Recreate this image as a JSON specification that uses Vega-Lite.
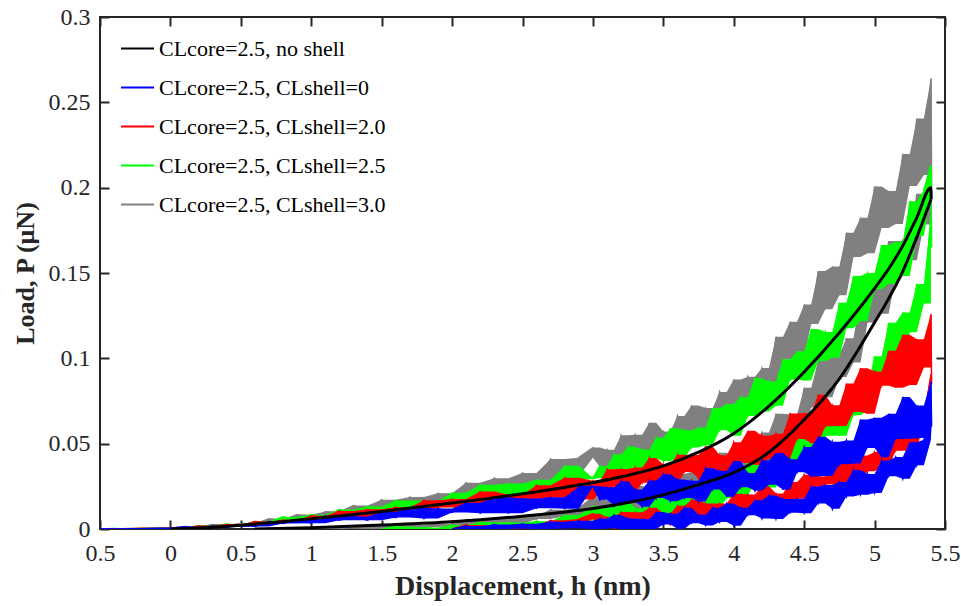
{
"$schema": "https://vega.github.io/schema/vega-lite/v6.json",
"width": 845,
"height": 512,
"autosize": {"type": "none"},
"padding": {"left": 100, "top": 17, "right": 16, "bottom": 77},
"background": "white",
"config": {
  "view": {"stroke": "#262626", "strokeWidth": 2},
  "axis": {"labelFont": "Liberation Serif", "labelFontSize": 24, "labelColor": "#262626", "tickColor": "#262626", "tickWidth": 2, "tickSize": -9, "domain": false, "grid": false, "labelFlush": false, "labelOverlap": false, "titleFont": "Liberation Serif", "titleFontSize": 26, "titleFontWeight": "bold", "titleColor": "#262626"}
},
"data": {"values": [
{"s":"y","t":"L","h":-0.5,"p":0.0002},{"s":"y","t":"L","h":-0.4,"p":0},{"s":"y","t":"L","h":-0.3,"p":0.0003},{"s":"y","t":"L","h":-0.2,"p":0.0001},{"s":"y","t":"L","h":-0.1,"p":0.0006},{"s":"y","t":"L","h":0,"p":0.0005},{"s":"y","t":"L","h":0.1,"p":0.0014},{"s":"y","t":"L","h":0.2,"p":0.0011},{"s":"y","t":"L","h":0.3,"p":0.0027},{"s":"y","t":"L","h":0.4,"p":0.0021},{"s":"y","t":"L","h":0.5,"p":0.0032},{"s":"y","t":"L","h":0.6,"p":0.003},{"s":"y","t":"L","h":0.7,"p":0.006},{"s":"y","t":"L","h":0.8,"p":0.005},{"s":"y","t":"L","h":0.9,"p":0.0085},{"s":"y","t":"L","h":1.0,"p":0.0061},{"s":"y","t":"L","h":1.1,"p":0.0101},{"s":"y","t":"L","h":1.2,"p":0.0097},{"s":"y","t":"L","h":1.3,"p":0.0138},{"s":"y","t":"L","h":1.4,"p":0.0108},{"s":"y","t":"L","h":1.5,"p":0.0172},{"s":"y","t":"L","h":1.6,"p":0.0123},{"s":"y","t":"L","h":1.7,"p":0.0187},{"s":"y","t":"L","h":1.8,"p":0.0157},{"s":"y","t":"L","h":1.9,"p":0.0209},{"s":"y","t":"L","h":2.0,"p":0.0173},{"s":"y","t":"L","h":2.1,"p":0.0271},{"s":"y","t":"L","h":2.2,"p":0.0221},{"s":"y","t":"L","h":2.3,"p":0.0298},{"s":"y","t":"L","h":2.4,"p":0.0214},{"s":"y","t":"L","h":2.5,"p":0.0328},{"s":"y","t":"L","h":2.6,"p":0.028},{"s":"y","t":"L","h":2.7,"p":0.041},{"s":"y","t":"L","h":2.8,"p":0.0309},{"s":"y","t":"L","h":2.9,"p":0.0418},
{"s":"y","t":"L","h":3.0,"p":0.0477},{"s":"y","t":"L","h":3.05,"p":0.0364},{"s":"y","t":"L","h":3.1,"p":0.0464},{"s":"y","t":"L","h":3.15,"p":0.0362},{"s":"y","t":"L","h":3.2,"p":0.0549},{"s":"y","t":"L","h":3.25,"p":0.0442},{"s":"y","t":"L","h":3.3,"p":0.0552},{"s":"y","t":"L","h":3.35,"p":0.042},{"s":"y","t":"L","h":3.4,"p":0.0622},{"s":"y","t":"L","h":3.45,"p":0.0485},{"s":"y","t":"L","h":3.5,"p":0.0571},{"s":"y","t":"L","h":3.55,"p":0.0483},{"s":"y","t":"L","h":3.6,"p":0.0662},{"s":"y","t":"L","h":3.65,"p":0.0538},{"s":"y","t":"L","h":3.7,"p":0.0724},{"s":"y","t":"L","h":3.75,"p":0.0525},{"s":"y","t":"L","h":3.8,"p":0.0709},{"s":"y","t":"L","h":3.85,"p":0.0648},{"s":"y","t":"L","h":3.9,"p":0.0803},{"s":"y","t":"L","h":3.95,"p":0.0641},{"s":"y","t":"L","h":4.0,"p":0.0876},{"s":"y","t":"L","h":4.05,"p":0.0672},{"s":"y","t":"L","h":4.1,"p":0.0892},{"s":"y","t":"L","h":4.15,"p":0.0783},{"s":"y","t":"L","h":4.2,"p":0.0943},{"s":"y","t":"L","h":4.25,"p":0.0827},{"s":"y","t":"L","h":4.3,"p":0.1126},{"s":"y","t":"L","h":4.35,"p":0.0993},{"s":"y","t":"L","h":4.4,"p":0.1214},{"s":"y","t":"L","h":4.45,"p":0.1009},{"s":"y","t":"L","h":4.5,"p":0.1315},{"s":"y","t":"L","h":4.55,"p":0.1201},{"s":"y","t":"L","h":4.6,"p":0.1511},{"s":"y","t":"L","h":4.65,"p":0.1287},{"s":"y","t":"L","h":4.7,"p":0.1538},{"s":"y","t":"L","h":4.75,"p":0.137},{"s":"y","t":"L","h":4.8,"p":0.1736},{"s":"y","t":"L","h":4.85,"p":0.1594},{"s":"y","t":"L","h":4.9,"p":0.1824},{"s":"y","t":"L","h":4.95,"p":0.1616},{"s":"y","t":"L","h":5.0,"p":0.2007},{"s":"y","t":"L","h":5.05,"p":0.1764},{"s":"y","t":"L","h":5.1,"p":0.1981},{"s":"y","t":"L","h":5.15,"p":0.1787},{"s":"y","t":"L","h":5.2,"p":0.2198},{"s":"y","t":"L","h":5.25,"p":0.201},{"s":"y","t":"L","h":5.3,"p":0.2405},{"s":"y","t":"L","h":5.35,"p":0.2074},{"s":"y","t":"L","h":5.4,"p":0.2639},{"s":"y","t":"L","h":5.405,"p":0.2},
{"s":"y","t":"U","h":1.0,"p":0},{"s":"y","t":"U","h":1.1,"p":0.0006},{"s":"y","t":"U","h":1.2,"p":0.0001},{"s":"y","t":"U","h":1.3,"p":0.0015},{"s":"y","t":"U","h":1.4,"p":0},{"s":"y","t":"U","h":1.5,"p":0.0023},{"s":"y","t":"U","h":1.6,"p":0.0001},{"s":"y","t":"U","h":1.7,"p":0.0026},{"s":"y","t":"U","h":1.8,"p":0.0012},{"s":"y","t":"U","h":1.9,"p":0.0031},{"s":"y","t":"U","h":2.0,"p":0.0015},{"s":"y","t":"U","h":2.1,"p":0.0055},{"s":"y","t":"U","h":2.2,"p":0.0033},{"s":"y","t":"U","h":2.3,"p":0.0064},{"s":"y","t":"U","h":2.4,"p":0.003},{"s":"y","t":"U","h":2.5,"p":0.0076},{"s":"y","t":"U","h":2.6,"p":0.0058},{"s":"y","t":"U","h":2.7,"p":0.0113},{"s":"y","t":"U","h":2.8,"p":0.0074},{"s":"y","t":"U","h":2.9,"p":0.0121},
{"s":"y","t":"U","h":3.0,"p":0.0186},{"s":"y","t":"U","h":3.05,"p":0.0053},{"s":"y","t":"U","h":3.1,"p":0.0166},{"s":"y","t":"U","h":3.15,"p":0.0121},{"s":"y","t":"U","h":3.2,"p":0.0216},{"s":"y","t":"U","h":3.25,"p":0.0103},{"s":"y","t":"U","h":3.3,"p":0.0253},{"s":"y","t":"U","h":3.35,"p":0.0104},{"s":"y","t":"U","h":3.4,"p":0.0234},{"s":"y","t":"U","h":3.45,"p":0.0147},{"s":"y","t":"U","h":3.5,"p":0.0237},{"s":"y","t":"U","h":3.55,"p":0.015},{"s":"y","t":"U","h":3.6,"p":0.0323},{"s":"y","t":"U","h":3.65,"p":0.0214},{"s":"y","t":"U","h":3.7,"p":0.0335},{"s":"y","t":"U","h":3.75,"p":0.018},{"s":"y","t":"U","h":3.8,"p":0.0361},{"s":"y","t":"U","h":3.85,"p":0.0268},{"s":"y","t":"U","h":3.9,"p":0.0447},{"s":"y","t":"U","h":3.95,"p":0.0284},{"s":"y","t":"U","h":4.0,"p":0.0424},{"s":"y","t":"U","h":4.05,"p":0.0305},{"s":"y","t":"U","h":4.1,"p":0.0529},{"s":"y","t":"U","h":4.15,"p":0.0428},{"s":"y","t":"U","h":4.2,"p":0.0565},{"s":"y","t":"U","h":4.25,"p":0.0421},{"s":"y","t":"U","h":4.3,"p":0.0676},{"s":"y","t":"U","h":4.35,"p":0.0526},{"s":"y","t":"U","h":4.4,"p":0.0673},{"s":"y","t":"U","h":4.45,"p":0.0552},{"s":"y","t":"U","h":4.5,"p":0.0827},{"s":"y","t":"U","h":4.55,"p":0.0713},{"s":"y","t":"U","h":4.6,"p":0.0984},{"s":"y","t":"U","h":4.65,"p":0.0772},{"s":"y","t":"U","h":4.7,"p":0.1023},{"s":"y","t":"U","h":4.75,"p":0.089},{"s":"y","t":"U","h":4.8,"p":0.1118},{"s":"y","t":"U","h":4.85,"p":0.0975},{"s":"y","t":"U","h":4.9,"p":0.1363},{"s":"y","t":"U","h":4.95,"p":0.121},{"s":"y","t":"U","h":5.0,"p":0.1457},{"s":"y","t":"U","h":5.05,"p":0.1261},{"s":"y","t":"U","h":5.1,"p":0.1687},{"s":"y","t":"U","h":5.15,"p":0.148},{"s":"y","t":"U","h":5.2,"p":0.1689},{"s":"y","t":"U","h":5.25,"p":0.1575},{"s":"y","t":"U","h":5.3,"p":0.1964},{"s":"y","t":"U","h":5.35,"p":0.1784},{"s":"y","t":"U","h":5.4,"p":0.2194},
{"s":"g","t":"L","h":-0.5,"p":0},{"s":"g","t":"L","h":-0.4,"p":0.0003},{"s":"g","t":"L","h":-0.3,"p":0},{"s":"g","t":"L","h":-0.2,"p":0.0004},{"s":"g","t":"L","h":-0.1,"p":0.0003},{"s":"g","t":"L","h":0,"p":0.0006},{"s":"g","t":"L","h":0.1,"p":0.0006},{"s":"g","t":"L","h":0.2,"p":0.0019},{"s":"g","t":"L","h":0.3,"p":0.0016},{"s":"g","t":"L","h":0.4,"p":0.0029},{"s":"g","t":"L","h":0.5,"p":0.0018},{"s":"g","t":"L","h":0.6,"p":0.0044},{"s":"g","t":"L","h":0.7,"p":0.004},{"s":"g","t":"L","h":0.8,"p":0.0071},{"s":"g","t":"L","h":0.9,"p":0.0054},{"s":"g","t":"L","h":1.0,"p":0.0083},{"s":"g","t":"L","h":1.1,"p":0.0066},{"s":"g","t":"L","h":1.2,"p":0.0114},{"s":"g","t":"L","h":1.3,"p":0.0097},{"s":"g","t":"L","h":1.4,"p":0.0132},{"s":"g","t":"L","h":1.5,"p":0.01},{"s":"g","t":"L","h":1.6,"p":0.0167},{"s":"g","t":"L","h":1.7,"p":0.0125},{"s":"g","t":"L","h":1.8,"p":0.0166},{"s":"g","t":"L","h":1.9,"p":0.0127},{"s":"g","t":"L","h":2.0,"p":0.0212},{"s":"g","t":"L","h":2.1,"p":0.017},{"s":"g","t":"L","h":2.2,"p":0.026},{"s":"g","t":"L","h":2.3,"p":0.0178},{"s":"g","t":"L","h":2.4,"p":0.0266},{"s":"g","t":"L","h":2.5,"p":0.0207},{"s":"g","t":"L","h":2.6,"p":0.0288},{"s":"g","t":"L","h":2.7,"p":0.0216},{"s":"g","t":"L","h":2.8,"p":0.0371},{"s":"g","t":"L","h":2.9,"p":0.0291},
{"s":"g","t":"L","h":3.0,"p":0.0299},{"s":"g","t":"L","h":3.05,"p":0.0369},{"s":"g","t":"L","h":3.1,"p":0.0296},{"s":"g","t":"L","h":3.15,"p":0.0437},{"s":"g","t":"L","h":3.2,"p":0.0335},{"s":"g","t":"L","h":3.25,"p":0.0482},{"s":"g","t":"L","h":3.3,"p":0.0321},{"s":"g","t":"L","h":3.35,"p":0.0466},{"s":"g","t":"L","h":3.4,"p":0.0413},{"s":"g","t":"L","h":3.45,"p":0.0535},{"s":"g","t":"L","h":3.5,"p":0.0399},{"s":"g","t":"L","h":3.55,"p":0.0591},{"s":"g","t":"L","h":3.6,"p":0.0412},{"s":"g","t":"L","h":3.65,"p":0.0578},{"s":"g","t":"L","h":3.7,"p":0.0477},{"s":"g","t":"L","h":3.75,"p":0.0593},{"s":"g","t":"L","h":3.8,"p":0.0491},{"s":"g","t":"L","h":3.85,"p":0.0708},{"s":"g","t":"L","h":3.9,"p":0.0579},{"s":"g","t":"L","h":3.95,"p":0.0733},{"s":"g","t":"L","h":4.0,"p":0.0547},{"s":"g","t":"L","h":4.05,"p":0.0773},{"s":"g","t":"L","h":4.1,"p":0.0662},{"s":"g","t":"L","h":4.15,"p":0.0884},{"s":"g","t":"L","h":4.2,"p":0.0689},{"s":"g","t":"L","h":4.25,"p":0.0864},{"s":"g","t":"L","h":4.3,"p":0.0722},{"s":"g","t":"L","h":4.35,"p":0.0995},{"s":"g","t":"L","h":4.4,"p":0.0875},{"s":"g","t":"L","h":4.45,"p":0.1042},{"s":"g","t":"L","h":4.5,"p":0.087},{"s":"g","t":"L","h":4.55,"p":0.1172},{"s":"g","t":"L","h":4.6,"p":0.0984},{"s":"g","t":"L","h":4.65,"p":0.1154},{"s":"g","t":"L","h":4.7,"p":0.1004},{"s":"g","t":"L","h":4.75,"p":0.1326},{"s":"g","t":"L","h":4.8,"p":0.1176},{"s":"g","t":"L","h":4.85,"p":0.1482},{"s":"g","t":"L","h":4.9,"p":0.1219},{"s":"g","t":"L","h":4.95,"p":0.15},{"s":"g","t":"L","h":5.0,"p":0.1405},{"s":"g","t":"L","h":5.05,"p":0.1664},{"s":"g","t":"L","h":5.1,"p":0.1437},{"s":"g","t":"L","h":5.15,"p":0.1683},{"s":"g","t":"L","h":5.2,"p":0.1483},{"s":"g","t":"L","h":5.25,"p":0.1921},{"s":"g","t":"L","h":5.3,"p":0.1718},{"s":"g","t":"L","h":5.35,"p":0.1985},{"s":"g","t":"L","h":5.4,"p":0.2132},{"s":"g","t":"L","h":5.405,"p":0.165},
{"s":"g","t":"U","h":1.5,"p":0},{"s":"g","t":"U","h":1.6,"p":0.0015},{"s":"g","t":"U","h":1.7,"p":0},{"s":"g","t":"U","h":1.8,"p":0.0009},{"s":"g","t":"U","h":1.9,"p":0},{"s":"g","t":"U","h":2.0,"p":0.0023},{"s":"g","t":"U","h":2.1,"p":0.0004},{"s":"g","t":"U","h":2.2,"p":0.004},{"s":"g","t":"U","h":2.3,"p":0.0004},{"s":"g","t":"U","h":2.4,"p":0.0038},{"s":"g","t":"U","h":2.5,"p":0.0012},{"s":"g","t":"U","h":2.6,"p":0.0046},{"s":"g","t":"U","h":2.7,"p":0.0017},{"s":"g","t":"U","h":2.8,"p":0.0082},{"s":"g","t":"U","h":2.9,"p":0.0049},
{"s":"g","t":"U","h":3.0,"p":0.0134},{"s":"g","t":"U","h":3.05,"p":0.0047},{"s":"g","t":"U","h":3.1,"p":0.0126},{"s":"g","t":"U","h":3.15,"p":0.002},{"s":"g","t":"U","h":3.2,"p":0.0171},{"s":"g","t":"U","h":3.25,"p":0.0061},{"s":"g","t":"U","h":3.3,"p":0.0122},{"s":"g","t":"U","h":3.35,"p":0.0046},{"s":"g","t":"U","h":3.4,"p":0.0177},{"s":"g","t":"U","h":3.45,"p":0.0072},{"s":"g","t":"U","h":3.5,"p":0.0208},{"s":"g","t":"U","h":3.55,"p":0.0051},{"s":"g","t":"U","h":3.6,"p":0.0186},{"s":"g","t":"U","h":3.65,"p":0.0132},{"s":"g","t":"U","h":3.7,"p":0.0245},{"s":"g","t":"U","h":3.75,"p":0.0113},{"s":"g","t":"U","h":3.8,"p":0.0294},{"s":"g","t":"U","h":3.85,"p":0.0122},{"s":"g","t":"U","h":3.9,"p":0.0279},{"s":"g","t":"U","h":3.95,"p":0.0182},{"s":"g","t":"U","h":4.0,"p":0.0292},{"s":"g","t":"U","h":4.05,"p":0.0193},{"s":"g","t":"U","h":4.1,"p":0.04},{"s":"g","t":"U","h":4.15,"p":0.0275},{"s":"g","t":"U","h":4.2,"p":0.0421},{"s":"g","t":"U","h":4.25,"p":0.0243},{"s":"g","t":"U","h":4.3,"p":0.0457},{"s":"g","t":"U","h":4.35,"p":0.0347},{"s":"g","t":"U","h":4.4,"p":0.0557},{"s":"g","t":"U","h":4.45,"p":0.0367},{"s":"g","t":"U","h":4.5,"p":0.0532},{"s":"g","t":"U","h":4.55,"p":0.0397},{"s":"g","t":"U","h":4.6,"p":0.066},{"s":"g","t":"U","h":4.65,"p":0.0547},{"s":"g","t":"U","h":4.7,"p":0.0709},{"s":"g","t":"U","h":4.75,"p":0.0546},{"s":"g","t":"U","h":4.8,"p":0.084},{"s":"g","t":"U","h":4.85,"p":0.0666},{"s":"g","t":"U","h":4.9,"p":0.0835},{"s":"g","t":"U","h":4.95,"p":0.0695},{"s":"g","t":"U","h":5.0,"p":0.1012},{"s":"g","t":"U","h":5.05,"p":0.0888},{"s":"g","t":"U","h":5.1,"p":0.1208},{"s":"g","t":"U","h":5.15,"p":0.0972},{"s":"g","t":"U","h":5.2,"p":0.1269},{"s":"g","t":"U","h":5.25,"p":0.1153},{"s":"g","t":"U","h":5.3,"p":0.1436},{"s":"g","t":"U","h":5.35,"p":0.1321},{"s":"g","t":"U","h":5.4,"p":0.1831},
{"s":"r","t":"L","h":-0.5,"p":0},{"s":"r","t":"L","h":-0.4,"p":0.0002},{"s":"r","t":"L","h":-0.3,"p":0.0001},{"s":"r","t":"L","h":-0.2,"p":0.0005},{"s":"r","t":"L","h":-0.1,"p":0.0003},{"s":"r","t":"L","h":0,"p":0.0006},{"s":"r","t":"L","h":0.1,"p":0.0005},{"s":"r","t":"L","h":0.2,"p":0.0018},{"s":"r","t":"L","h":0.3,"p":0.0015},{"s":"r","t":"L","h":0.4,"p":0.0026},{"s":"r","t":"L","h":0.5,"p":0.0017},{"s":"r","t":"L","h":0.6,"p":0.0044},{"s":"r","t":"L","h":0.7,"p":0.0033},{"s":"r","t":"L","h":0.8,"p":0.0052},{"s":"r","t":"L","h":0.9,"p":0.004},{"s":"r","t":"L","h":1.0,"p":0.0078},{"s":"r","t":"L","h":1.1,"p":0.0064},{"s":"r","t":"L","h":1.2,"p":0.0106},{"s":"r","t":"L","h":1.3,"p":0.0071},{"s":"r","t":"L","h":1.4,"p":0.0115},{"s":"r","t":"L","h":1.5,"p":0.0089},{"s":"r","t":"L","h":1.6,"p":0.0128},{"s":"r","t":"L","h":1.7,"p":0.009},{"s":"r","t":"L","h":1.8,"p":0.0169},{"s":"r","t":"L","h":1.9,"p":0.0126},{"s":"r","t":"L","h":2.0,"p":0.0176},{"s":"r","t":"L","h":2.1,"p":0.0118},{"s":"r","t":"L","h":2.2,"p":0.022},{"s":"r","t":"L","h":2.3,"p":0.0153},{"s":"r","t":"L","h":2.4,"p":0.0201},{"s":"r","t":"L","h":2.5,"p":0.0152},{"s":"r","t":"L","h":2.6,"p":0.0257},{"s":"r","t":"L","h":2.7,"p":0.0184},{"s":"r","t":"L","h":2.8,"p":0.03},{"s":"r","t":"L","h":2.9,"p":0.0173},
{"s":"r","t":"L","h":3.0,"p":0.0283},{"s":"r","t":"L","h":3.05,"p":0.0204},{"s":"r","t":"L","h":3.1,"p":0.035},{"s":"r","t":"L","h":3.15,"p":0.025},{"s":"r","t":"L","h":3.2,"p":0.0352},{"s":"r","t":"L","h":3.25,"p":0.0213},{"s":"r","t":"L","h":3.3,"p":0.0361},{"s":"r","t":"L","h":3.35,"p":0.0271},{"s":"r","t":"L","h":3.4,"p":0.0416},{"s":"r","t":"L","h":3.45,"p":0.0266},{"s":"r","t":"L","h":3.5,"p":0.0378},{"s":"r","t":"L","h":3.55,"p":0.0261},{"s":"r","t":"L","h":3.6,"p":0.0435},{"s":"r","t":"L","h":3.65,"p":0.0334},{"s":"r","t":"L","h":3.7,"p":0.0434},{"s":"r","t":"L","h":3.75,"p":0.0297},{"s":"r","t":"L","h":3.8,"p":0.0485},{"s":"r","t":"L","h":3.85,"p":0.0335},{"s":"r","t":"L","h":3.9,"p":0.0432},{"s":"r","t":"L","h":3.95,"p":0.0309},{"s":"r","t":"L","h":4.0,"p":0.0509},{"s":"r","t":"L","h":4.05,"p":0.0387},{"s":"r","t":"L","h":4.1,"p":0.0575},{"s":"r","t":"L","h":4.15,"p":0.0377},{"s":"r","t":"L","h":4.2,"p":0.0547},{"s":"r","t":"L","h":4.25,"p":0.0414},{"s":"r","t":"L","h":4.3,"p":0.0558},{"s":"r","t":"L","h":4.35,"p":0.0413},{"s":"r","t":"L","h":4.4,"p":0.0677},{"s":"r","t":"L","h":4.45,"p":0.0527},{"s":"r","t":"L","h":4.5,"p":0.068},{"s":"r","t":"L","h":4.55,"p":0.0502},{"s":"r","t":"L","h":4.6,"p":0.0787},{"s":"r","t":"L","h":4.65,"p":0.0602},{"s":"r","t":"L","h":4.7,"p":0.0725},{"s":"r","t":"L","h":4.75,"p":0.0603},{"s":"r","t":"L","h":4.8,"p":0.0852},{"s":"r","t":"L","h":4.85,"p":0.0685},{"s":"r","t":"L","h":4.9,"p":0.0942},{"s":"r","t":"L","h":4.95,"p":0.0676},{"s":"r","t":"L","h":5.0,"p":0.0923},{"s":"r","t":"L","h":5.05,"p":0.084},{"s":"r","t":"L","h":5.1,"p":0.1045},{"s":"r","t":"L","h":5.15,"p":0.0827},{"s":"r","t":"L","h":5.2,"p":0.1138},{"s":"r","t":"L","h":5.25,"p":0.0844},{"s":"r","t":"L","h":5.3,"p":0.1112},{"s":"r","t":"L","h":5.35,"p":0.0947},{"s":"r","t":"L","h":5.4,"p":0.1258},{"s":"r","t":"L","h":5.405,"p":0.085},
{"s":"r","t":"U","h":2.0,"p":0},{"s":"r","t":"U","h":2.1,"p":0.0024},{"s":"r","t":"U","h":2.2,"p":0},{"s":"r","t":"U","h":2.3,"p":0.0021},{"s":"r","t":"U","h":2.4,"p":0},{"s":"r","t":"U","h":2.5,"p":0.0023},{"s":"r","t":"U","h":2.6,"p":0},{"s":"r","t":"U","h":2.7,"p":0.0051},{"s":"r","t":"U","h":2.8,"p":0.0018},{"s":"r","t":"U","h":2.9,"p":0.0058},
{"s":"r","t":"U","h":3.0,"p":0.0089},{"s":"r","t":"U","h":3.05,"p":0.0009},{"s":"r","t":"U","h":3.1,"p":0.0069},{"s":"r","t":"U","h":3.15,"p":0.0004},{"s":"r","t":"U","h":3.2,"p":0.0099},{"s":"r","t":"U","h":3.25,"p":0.0044},{"s":"r","t":"U","h":3.3,"p":0.0098},{"s":"r","t":"U","h":3.35,"p":0.0022},{"s":"r","t":"U","h":3.4,"p":0.0124},{"s":"r","t":"U","h":3.45,"p":0.0041},{"s":"r","t":"U","h":3.5,"p":0.0092},{"s":"r","t":"U","h":3.55,"p":0.0024},{"s":"r","t":"U","h":3.6,"p":0.0136},{"s":"r","t":"U","h":3.65,"p":0.0066},{"s":"r","t":"U","h":3.7,"p":0.017},{"s":"r","t":"U","h":3.75,"p":0.0056},{"s":"r","t":"U","h":3.8,"p":0.015},{"s":"r","t":"U","h":3.85,"p":0.0074},{"s":"r","t":"U","h":3.9,"p":0.0149},{"s":"r","t":"U","h":3.95,"p":0.0062},{"s":"r","t":"U","h":4.0,"p":0.0206},{"s":"r","t":"U","h":4.05,"p":0.0118},{"s":"r","t":"U","h":4.1,"p":0.0202},{"s":"r","t":"U","h":4.15,"p":0.0095},{"s":"r","t":"U","h":4.2,"p":0.025},{"s":"r","t":"U","h":4.25,"p":0.0141},{"s":"r","t":"U","h":4.3,"p":0.0208},{"s":"r","t":"U","h":4.35,"p":0.0138},{"s":"r","t":"U","h":4.4,"p":0.0275},{"s":"r","t":"U","h":4.45,"p":0.0177},{"s":"r","t":"U","h":4.5,"p":0.0318},{"s":"r","t":"U","h":4.55,"p":0.0168},{"s":"r","t":"U","h":4.6,"p":0.0308},{"s":"r","t":"U","h":4.65,"p":0.0261},{"s":"r","t":"U","h":4.7,"p":0.0378},{"s":"r","t":"U","h":4.75,"p":0.0254},{"s":"r","t":"U","h":4.8,"p":0.0436},{"s":"r","t":"U","h":4.85,"p":0.0272},{"s":"r","t":"U","h":4.9,"p":0.043},{"s":"r","t":"U","h":4.95,"p":0.0339},{"s":"r","t":"U","h":5.0,"p":0.0451},{"s":"r","t":"U","h":5.05,"p":0.0363},{"s":"r","t":"U","h":5.1,"p":0.0572},{"s":"r","t":"U","h":5.15,"p":0.0459},{"s":"r","t":"U","h":5.2,"p":0.0608},{"s":"r","t":"U","h":5.25,"p":0.046},{"s":"r","t":"U","h":5.3,"p":0.069},{"s":"r","t":"U","h":5.35,"p":0.0639},{"s":"r","t":"U","h":5.4,"p":0.0906},
{"s":"b","t":"L","h":-0.5,"p":0.0002},{"s":"b","t":"L","h":-0.4,"p":0},{"s":"b","t":"L","h":-0.3,"p":0.0002},{"s":"b","t":"L","h":-0.2,"p":0.0001},{"s":"b","t":"L","h":-0.1,"p":0.0005},{"s":"b","t":"L","h":0,"p":0.0004},{"s":"b","t":"L","h":0.1,"p":0.0013},{"s":"b","t":"L","h":0.2,"p":0.0006},{"s":"b","t":"L","h":0.3,"p":0.0018},{"s":"b","t":"L","h":0.4,"p":0.0011},{"s":"b","t":"L","h":0.5,"p":0.0023},{"s":"b","t":"L","h":0.6,"p":0.0015},{"s":"b","t":"L","h":0.7,"p":0.0044},{"s":"b","t":"L","h":0.8,"p":0.0032},{"s":"b","t":"L","h":0.9,"p":0.0054},{"s":"b","t":"L","h":1.0,"p":0.0034},{"s":"b","t":"L","h":1.1,"p":0.0076},{"s":"b","t":"L","h":1.2,"p":0.0051},{"s":"b","t":"L","h":1.3,"p":0.0073},{"s":"b","t":"L","h":1.4,"p":0.0052},{"s":"b","t":"L","h":1.5,"p":0.01},{"s":"b","t":"L","h":1.6,"p":0.0067},{"s":"b","t":"L","h":1.7,"p":0.0124},{"s":"b","t":"L","h":1.8,"p":0.0061},{"s":"b","t":"L","h":1.9,"p":0.012},{"s":"b","t":"L","h":2.0,"p":0.0097},{"s":"b","t":"L","h":2.1,"p":0.0154},{"s":"b","t":"L","h":2.2,"p":0.0092},{"s":"b","t":"L","h":2.3,"p":0.0186},{"s":"b","t":"L","h":2.4,"p":0.0093},{"s":"b","t":"L","h":2.5,"p":0.0179},{"s":"b","t":"L","h":2.6,"p":0.0121},{"s":"b","t":"L","h":2.7,"p":0.0186},{"s":"b","t":"L","h":2.8,"p":0.0119},{"s":"b","t":"L","h":2.9,"p":0.0247},
{"s":"b","t":"L","h":3.0,"p":0.0251},{"s":"b","t":"L","h":3.05,"p":0.0171},{"s":"b","t":"L","h":3.1,"p":0.0245},{"s":"b","t":"L","h":3.15,"p":0.0138},{"s":"b","t":"L","h":3.2,"p":0.028},{"s":"b","t":"L","h":3.25,"p":0.016},{"s":"b","t":"L","h":3.3,"p":0.0231},{"s":"b","t":"L","h":3.35,"p":0.0131},{"s":"b","t":"L","h":3.4,"p":0.0284},{"s":"b","t":"L","h":3.45,"p":0.0181},{"s":"b","t":"L","h":3.5,"p":0.0321},{"s":"b","t":"L","h":3.55,"p":0.0162},{"s":"b","t":"L","h":3.6,"p":0.029},{"s":"b","t":"L","h":3.65,"p":0.0181},{"s":"b","t":"L","h":3.7,"p":0.0283},{"s":"b","t":"L","h":3.75,"p":0.0161},{"s":"b","t":"L","h":3.8,"p":0.0357},{"s":"b","t":"L","h":3.85,"p":0.0231},{"s":"b","t":"L","h":3.9,"p":0.034},{"s":"b","t":"L","h":3.95,"p":0.0189},{"s":"b","t":"L","h":4.0,"p":0.0398},{"s":"b","t":"L","h":4.05,"p":0.0244},{"s":"b","t":"L","h":4.1,"p":0.0328},{"s":"b","t":"L","h":4.15,"p":0.0224},{"s":"b","t":"L","h":4.2,"p":0.0403},{"s":"b","t":"L","h":4.25,"p":0.026},{"s":"b","t":"L","h":4.3,"p":0.0446},{"s":"b","t":"L","h":4.35,"p":0.023},{"s":"b","t":"L","h":4.4,"p":0.0409},{"s":"b","t":"L","h":4.45,"p":0.0333},{"s":"b","t":"L","h":4.5,"p":0.048},{"s":"b","t":"L","h":4.55,"p":0.0307},{"s":"b","t":"L","h":4.6,"p":0.0541},{"s":"b","t":"L","h":4.65,"p":0.031},{"s":"b","t":"L","h":4.7,"p":0.0511},{"s":"b","t":"L","h":4.75,"p":0.0379},{"s":"b","t":"L","h":4.8,"p":0.0519},{"s":"b","t":"L","h":4.85,"p":0.0384},{"s":"b","t":"L","h":4.9,"p":0.0642},{"s":"b","t":"L","h":4.95,"p":0.0474},{"s":"b","t":"L","h":5.0,"p":0.0652},{"s":"b","t":"L","h":5.05,"p":0.042},{"s":"b","t":"L","h":5.1,"p":0.0675},{"s":"b","t":"L","h":5.15,"p":0.0527},{"s":"b","t":"L","h":5.2,"p":0.0774},{"s":"b","t":"L","h":5.25,"p":0.053},{"s":"b","t":"L","h":5.3,"p":0.0724},{"s":"b","t":"L","h":5.35,"p":0.0535},{"s":"b","t":"L","h":5.4,"p":0.0863},{"s":"b","t":"L","h":5.405,"p":0.06},
{"s":"b","t":"U","h":2.0,"p":0},{"s":"b","t":"U","h":2.1,"p":0.0018},{"s":"b","t":"U","h":2.2,"p":0},{"s":"b","t":"U","h":2.3,"p":0.0026},{"s":"b","t":"U","h":2.4,"p":0.0002},{"s":"b","t":"U","h":2.5,"p":0.0031},{"s":"b","t":"U","h":2.6,"p":0},{"s":"b","t":"U","h":2.7,"p":0.0043},{"s":"b","t":"U","h":2.8,"p":0.0005},{"s":"b","t":"U","h":2.9,"p":0.0049},
{"s":"b","t":"U","h":3.0,"p":0},{"s":"b","t":"U","h":3.05,"p":0.0061},{"s":"b","t":"U","h":3.1,"p":0.0004},{"s":"b","t":"U","h":3.15,"p":0.0082},{"s":"b","t":"U","h":3.2,"p":0},{"s":"b","t":"U","h":3.25,"p":0.0062},{"s":"b","t":"U","h":3.3,"p":0},{"s":"b","t":"U","h":3.35,"p":0.0058},{"s":"b","t":"U","h":3.4,"p":0},{"s":"b","t":"U","h":3.45,"p":0.0099},{"s":"b","t":"U","h":3.5,"p":0.0026},{"s":"b","t":"U","h":3.55,"p":0.009},{"s":"b","t":"U","h":3.6,"p":0.0002},{"s":"b","t":"U","h":3.65,"p":0.0125},{"s":"b","t":"U","h":3.7,"p":0.0034},{"s":"b","t":"U","h":3.75,"p":0.0083},{"s":"b","t":"U","h":3.8,"p":0.0021},{"s":"b","t":"U","h":3.85,"p":0.0125},{"s":"b","t":"U","h":3.9,"p":0.0041},{"s":"b","t":"U","h":3.95,"p":0.0149},{"s":"b","t":"U","h":4.0,"p":0.0019},{"s":"b","t":"U","h":4.05,"p":0.0125},{"s":"b","t":"U","h":4.1,"p":0.008},{"s":"b","t":"U","h":4.15,"p":0.0168},{"s":"b","t":"U","h":4.2,"p":0.0061},{"s":"b","t":"U","h":4.25,"p":0.0197},{"s":"b","t":"U","h":4.3,"p":0.0058},{"s":"b","t":"U","h":4.35,"p":0.0176},{"s":"b","t":"U","h":4.4,"p":0.0095},{"s":"b","t":"U","h":4.45,"p":0.0177},{"s":"b","t":"U","h":4.5,"p":0.0093},{"s":"b","t":"U","h":4.55,"p":0.0249},{"s":"b","t":"U","h":4.6,"p":0.0149},{"s":"b","t":"U","h":4.65,"p":0.0258},{"s":"b","t":"U","h":4.7,"p":0.0118},{"s":"b","t":"U","h":4.75,"p":0.0275},{"s":"b","t":"U","h":4.8,"p":0.019},{"s":"b","t":"U","h":4.85,"p":0.0346},{"s":"b","t":"U","h":4.9,"p":0.0201},{"s":"b","t":"U","h":4.95,"p":0.0323},{"s":"b","t":"U","h":5.0,"p":0.0211},{"s":"b","t":"U","h":5.05,"p":0.0401},{"s":"b","t":"U","h":5.1,"p":0.0309},{"s":"b","t":"U","h":5.15,"p":0.0422},{"s":"b","t":"U","h":5.2,"p":0.0295},{"s":"b","t":"U","h":5.25,"p":0.0508},{"s":"b","t":"U","h":5.3,"p":0.0373},{"s":"b","t":"U","h":5.35,"p":0.0523},{"s":"b","t":"U","h":5.4,"p":0.063},
{"s":"k","t":"L","h":0,"p":0},{"s":"k","t":"L","h":0.25,"p":0.0008},{"s":"k","t":"L","h":0.5,"p":0.0022},{"s":"k","t":"L","h":0.75,"p":0.004},{"s":"k","t":"L","h":1.0,"p":0.006},{"s":"k","t":"L","h":1.25,"p":0.0081},{"s":"k","t":"L","h":1.5,"p":0.0103},{"s":"k","t":"L","h":1.75,"p":0.0127},{"s":"k","t":"L","h":2.0,"p":0.0152},{"s":"k","t":"L","h":2.25,"p":0.0178},{"s":"k","t":"L","h":2.5,"p":0.0206},{"s":"k","t":"L","h":2.75,"p":0.0237},{"s":"k","t":"L","h":3.0,"p":0.0272},{"s":"k","t":"L","h":3.25,"p":0.0315},{"s":"k","t":"L","h":3.5,"p":0.037},{"s":"k","t":"L","h":3.75,"p":0.045},{"s":"k","t":"L","h":4.0,"p":0.056},{"s":"k","t":"L","h":4.25,"p":0.072},{"s":"k","t":"L","h":4.5,"p":0.092},{"s":"k","t":"L","h":4.75,"p":0.115},{"s":"k","t":"L","h":5.0,"p":0.141},{"s":"k","t":"L","h":5.1,"p":0.1525},{"s":"k","t":"L","h":5.2,"p":0.166},{"s":"k","t":"L","h":5.3,"p":0.1825},{"s":"k","t":"L","h":5.4,"p":0.2},{"s":"k","t":"L","h":5.402,"p":0.193},
{"s":"k","t":"U","h":0.6,"p":0},{"s":"k","t":"U","h":1.0,"p":0.0008},{"s":"k","t":"U","h":1.5,"p":0.0023},{"s":"k","t":"U","h":2.0,"p":0.0042},{"s":"k","t":"U","h":2.5,"p":0.0075},{"s":"k","t":"U","h":3.0,"p":0.012},{"s":"k","t":"U","h":3.25,"p":0.0155},{"s":"k","t":"U","h":3.5,"p":0.02},{"s":"k","t":"U","h":3.75,"p":0.026},{"s":"k","t":"U","h":4.0,"p":0.033},{"s":"k","t":"U","h":4.25,"p":0.045},{"s":"k","t":"U","h":4.5,"p":0.064},{"s":"k","t":"U","h":4.75,"p":0.088},{"s":"k","t":"U","h":5.0,"p":0.121},{"s":"k","t":"U","h":5.1,"p":0.135},{"s":"k","t":"U","h":5.2,"p":0.151},{"s":"k","t":"U","h":5.3,"p":0.171},{"s":"k","t":"U","h":5.4,"p":0.193}
]},
"layer": [
  {
    "transform": [{"filter": "datum.s == 'y'"}],
    "mark": {"type": "line", "strokeWidth": 1.5, "clip": true},
    "encoding": {
      "x": {"field": "h", "type": "quantitative", "scale": {"domain": [-0.5, 5.5], "nice": false, "zero": false},
        "axis": {"orient": "bottom", "title": "Displacement, h (nm)", "titleFontSize": 28, "values": [-0.5,0,0.5,1,1.5,2,2.5,3,3.5,4,4.5,5,5.5], "labelExpr": "format(abs(datum.value), '.1~f')", "labelPadding": 21, "titlePadding": 7}},
      "y": {"field": "p", "type": "quantitative", "scale": {"domain": [0, 0.3], "nice": false},
        "axis": {"orient": "left", "title": "Load, P (μN)", "values": [0,0.05,0.1,0.15,0.2,0.25,0.3], "format": ".2~f", "labelPadding": 19, "titlePadding": 10}},
      "color": {"field": "s", "type": "nominal",
        "scale": {"domain": ["k","b","r","g","y"], "range": ["#000000","#0000ff","#ff0000","#00ff00","#808080"]},
        "legend": {"orient": "none", "legendX": 20, "legendY": 14, "title": null, "symbolType": "stroke", "symbolSize": 1089, "symbolStrokeWidth": 2, "labelFont": "Liberation Serif", "labelFontSize": 22, "labelColor": "#000000", "labelLimit": 0, "labelOffset": 4, "rowPadding": 10, "padding": 0,
          "labelExpr": "datum.value == 'k' ? 'CLcore=2.5, no shell' : datum.value == 'b' ? 'CLcore=2.5, CLshell=0' : datum.value == 'r' ? 'CLcore=2.5, CLshell=2.0' : datum.value == 'g' ? 'CLcore=2.5, CLshell=2.5' : 'CLcore=2.5, CLshell=3.0'"}},
      "detail": {"field": "t"}
    }
  },
  {
    "transform": [{"filter": "datum.s == 'y'"}, {"window": [{"op": "min", "field": "p", "as": "lo"}, {"op": "max", "field": "p", "as": "hi"}], "groupby": ["t"], "sort": [{"field": "h", "order": "ascending"}], "frame": [-1, 0]}],
    "mark": {"type": "area", "clip": true},
    "encoding": {
      "x": {"field": "h", "type": "quantitative", "axis": null},
      "y": {"field": "lo", "type": "quantitative", "axis": null},
      "y2": {"field": "hi"},
      "color": {"field": "s", "type": "nominal"},
      "detail": {"field": "t"}
    }
  },
  {
    "transform": [{"filter": "datum.s == 'g'"}],
    "mark": {"type": "line", "strokeWidth": 1.5, "clip": true},
    "encoding": {
      "x": {"field": "h", "type": "quantitative", "axis": null},
      "y": {"field": "p", "type": "quantitative", "axis": null},
      "color": {"field": "s", "type": "nominal"},
      "detail": {"field": "t"}
    }
  },
  {
    "transform": [{"filter": "datum.s == 'g'"}, {"window": [{"op": "min", "field": "p", "as": "lo"}, {"op": "max", "field": "p", "as": "hi"}], "groupby": ["t"], "sort": [{"field": "h", "order": "ascending"}], "frame": [-1, 0]}],
    "mark": {"type": "area", "clip": true},
    "encoding": {
      "x": {"field": "h", "type": "quantitative", "axis": null},
      "y": {"field": "lo", "type": "quantitative", "axis": null},
      "y2": {"field": "hi"},
      "color": {"field": "s", "type": "nominal"},
      "detail": {"field": "t"}
    }
  },
  {
    "transform": [{"filter": "datum.s == 'r'"}],
    "mark": {"type": "line", "strokeWidth": 1.5, "clip": true},
    "encoding": {
      "x": {"field": "h", "type": "quantitative", "axis": null},
      "y": {"field": "p", "type": "quantitative", "axis": null},
      "color": {"field": "s", "type": "nominal"},
      "detail": {"field": "t"}
    }
  },
  {
    "transform": [{"filter": "datum.s == 'r'"}, {"window": [{"op": "min", "field": "p", "as": "lo"}, {"op": "max", "field": "p", "as": "hi"}], "groupby": ["t"], "sort": [{"field": "h", "order": "ascending"}], "frame": [-1, 0]}],
    "mark": {"type": "area", "clip": true},
    "encoding": {
      "x": {"field": "h", "type": "quantitative", "axis": null},
      "y": {"field": "lo", "type": "quantitative", "axis": null},
      "y2": {"field": "hi"},
      "color": {"field": "s", "type": "nominal"},
      "detail": {"field": "t"}
    }
  },
  {
    "transform": [{"filter": "datum.s == 'b'"}],
    "mark": {"type": "line", "strokeWidth": 1.5, "clip": true},
    "encoding": {
      "x": {"field": "h", "type": "quantitative", "axis": null},
      "y": {"field": "p", "type": "quantitative", "axis": null},
      "color": {"field": "s", "type": "nominal"},
      "detail": {"field": "t"}
    }
  },
  {
    "transform": [{"filter": "datum.s == 'b'"}, {"window": [{"op": "min", "field": "p", "as": "lo"}, {"op": "max", "field": "p", "as": "hi"}], "groupby": ["t"], "sort": [{"field": "h", "order": "ascending"}], "frame": [-1, 0]}],
    "mark": {"type": "area", "clip": true},
    "encoding": {
      "x": {"field": "h", "type": "quantitative", "axis": null},
      "y": {"field": "lo", "type": "quantitative", "axis": null},
      "y2": {"field": "hi"},
      "color": {"field": "s", "type": "nominal"},
      "detail": {"field": "t"}
    }
  },
  {
    "transform": [{"filter": "datum.s == 'k'"}],
    "mark": {"type": "line", "strokeWidth": 3, "interpolate": "monotone", "clip": true},
    "encoding": {
      "x": {"field": "h", "type": "quantitative", "axis": {"orient": "top", "labels": false, "title": null, "values": [-0.5,0,0.5,1,1.5,2,2.5,3,3.5,4,4.5,5,5.5]}},
      "y": {"field": "p", "type": "quantitative", "axis": {"orient": "right", "labels": false, "title": null, "values": [0,0.05,0.1,0.15,0.2,0.25,0.3]}},
      "color": {"field": "s", "type": "nominal"},
      "detail": {"field": "t"}
    }
  }
],
"resolve": {"axis": {"x": "independent", "y": "independent"}}
}
